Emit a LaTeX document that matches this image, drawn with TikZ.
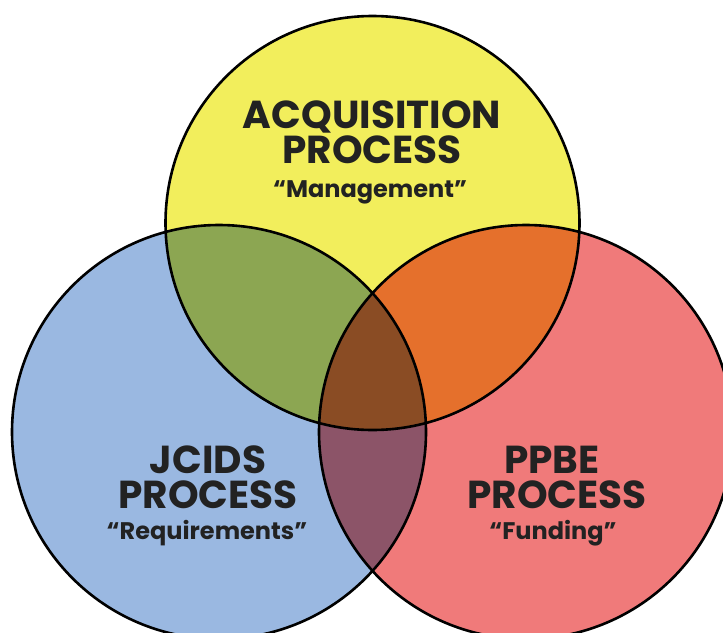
\documentclass[tikz,border=0pt]{standalone}
\usepackage{fontspec}
\newfontfamily\labelfont{Poppins}[BoldFont={* Bold}]
\definecolor{acqyellow}{HTML}{F2EE5C}
\definecolor{reqblue}{HTML}{9AB8E1}
\definecolor{fundred}{HTML}{F07A7A}
\definecolor{mixgreen}{HTML}{8CA652}
\definecolor{mixorange}{HTML}{E5702C}
\definecolor{mixpurple}{HTML}{8C5468}
\definecolor{mixbrown}{HTML}{8A4C24}
\definecolor{ink}{HTML}{222222}
\tikzset{
  ring/.style={draw=black, line width=2.6pt},
  title/.style={text=ink, anchor=base, inner sep=0pt, text height=27pt, text depth=0pt,
    font=\labelfont\bfseries\fontsize{39}{35}\selectfont},
  motto/.style={text=ink, anchor=base, inner sep=0pt, font=\labelfont\bfseries\fontsize{24}{26}\selectfont}
}
\begin{document}
\begin{tikzpicture}[x=1pt,y=-1pt]
\useasboundingbox (0,0) rectangle (723,632);
\clip (0,0) rectangle (723,632);
\coordinate (acq) at (372.5,223);
\coordinate (req) at (219,432);
\coordinate (fund) at (526,432);
\def\R{207pt}
% base discs
\fill[reqblue] (req) circle[radius=\R];
\fill[fundred] (fund) circle[radius=\R];
\fill[acqyellow] (acq) circle[radius=\R];
% pairwise overlaps
\begin{scope}
  \clip (acq) circle[radius=\R];
  \fill[mixgreen] (req) circle[radius=\R];
  \fill[mixorange] (fund) circle[radius=\R];
\end{scope}
\begin{scope}
  \clip (req) circle[radius=\R];
  \fill[mixpurple] (fund) circle[radius=\R];
  \clip (fund) circle[radius=\R];
  \fill[mixbrown] (acq) circle[radius=\R];
\end{scope}
% outlines
\draw[ring] (req) circle[radius=\R];
\draw[ring] (fund) circle[radius=\R];
\draw[ring] (acq) circle[radius=\R];
% labels
\node[title] (acqt) at (372,128) {ACQUISITION};
\node[title] (acqp) at (372,163) {PROCESS};
\node[motto] (acqm) at (370,197) {“Management”};
\node[title] (reqt) at (208,473) {JCIDS};
\node[title] (reqp) at (208,508) {PROCESS};
\node[motto] (reqm) at (207,539) {“Requirements”};
\node[title] (fundt) at (552,473) {PPBE};
\node[title] (fundp) at (557,508) {PROCESS};
\node[motto] (fundm) at (553,539) {“Funding”};
\end{tikzpicture}
\end{document}
